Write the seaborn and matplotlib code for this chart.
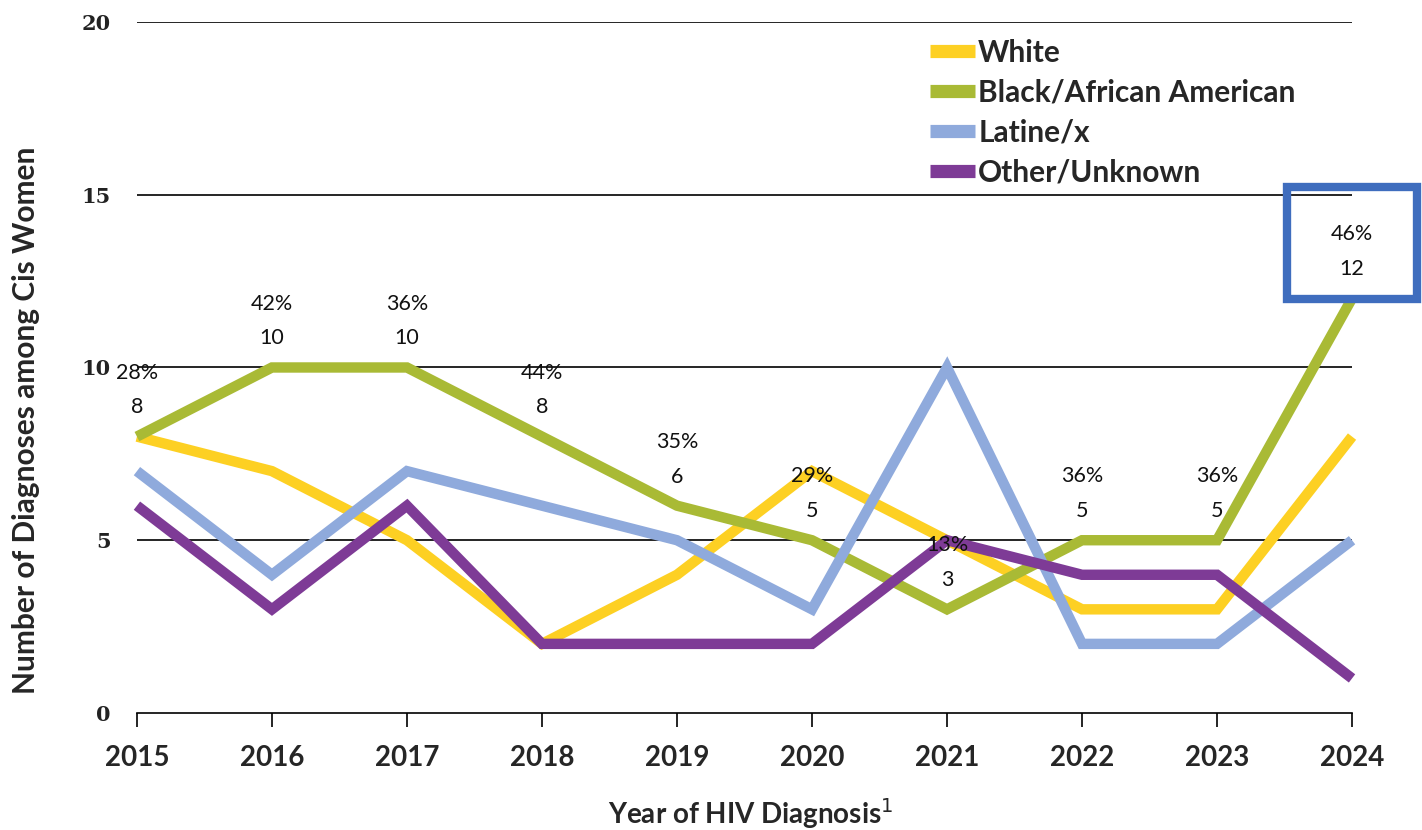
import pandas as pd
import seaborn as sns
import matplotlib.pyplot as plt
from matplotlib.patches import Rectangle

# Data
years = [2015, 2016, 2017, 2018, 2019, 2020, 2021, 2022, 2023, 2024]
white = [8, 7, 5, 2, 4, 7, 5, 3, 3, 8]
black = [8, 10, 10, 8, 6, 5, 3, 5, 5, 12]
latine = [7, 4, 7, 6, 5, 3, 10, 2, 2, 5]
other = [6, 3, 6, 2, 2, 2, 5, 4, 4, 1]
black_pct = ["28%", "42%", "36%", "44%", "35%", "29%", "13%", "36%", "36%", "46%"]

groups = ["White", "Black/African American", "Latine/x", "Other/Unknown"]
colors = ["#FDD023", "#A9BA35", "#8FAADC", "#7E3B96"]

df = pd.DataFrame({
    "year": years * 4,
    "count": white + black + latine + other,
    "group": [g for g in groups for _ in years],
})

sns.set_style("white")
fig = plt.figure(figsize=(14.22, 8.3), dpi=100)
ax = fig.add_axes([0.0963, 0.141, 0.8545, 0.8325])

sns.lineplot(data=df, x="year", y="count", hue="group", hue_order=groups,
             palette=colors, linewidth=7.5, ax=ax, sort=False)
for ln in ax.lines:
    ln.set_solid_capstyle("butt")
    ln.set_solid_joinstyle("miter")
    ln.set_clip_on(False)

ax.set_xlim(2015, 2024)
ax.set_ylim(0, 20)
ax.set_yticks([0, 5, 10, 15, 20])
ax.set_xticks(years)
for y in [5, 10, 15, 20]:
    ax.axhline(y, color="black", linewidth=1.2, zorder=0)

ax.set_yticklabels(["0", "5", "10", "15", "20"], fontfamily="DejaVu Serif",
                   fontweight="bold", fontsize=15, color="#222222")
ax.set_xticklabels([str(y) for y in years], fontfamily="Lato",
                   fontweight="bold", fontsize=20)
ax.tick_params(axis="y", length=0, pad=19)
ax.tick_params(axis="x", length=10, width=1.2, direction="out", pad=13,
               bottom=True, color="black")

for s in ["top", "right", "left"]:
    ax.spines[s].set_visible(False)
ax.spines["bottom"].set_color("black")
ax.spines["bottom"].set_linewidth(1.2)

ax.set_xlabel("Year of HIV Diagnosis$^1$", fontfamily="Lato",
              fontweight="bold", fontsize=20)
ax.set_ylabel("Number of Diagnoses among Cis Women", fontfamily="Lato",
              fontweight="bold", fontsize=21.5)
ax.xaxis.set_label_coords(0.505, -0.12)
ax.yaxis.set_label_coords(-0.08, 0.424)

# Percent / count labels above the Black/African American line
for x, v, p in zip(years, black, black_pct):
    ax.annotate(str(v), (x, v), xytext=(0, 21), textcoords="offset points",
                ha="center", va="center", fontsize=15.5, fontfamily="Lato",
                color="#111111")
    ax.annotate(p, (x, v), xytext=(0, 46), textcoords="offset points",
                ha="center", va="center", fontsize=15.5, fontfamily="Lato",
                color="#111111")

# Highlight box around 2024 label
ax.add_patch(Rectangle((years[-1] - 0.48, black[-1] - 0.03), 0.96, 3.25,
                       fill=False, edgecolor="#3F6DBE", linewidth=6,
                       clip_on=False, zorder=5))

leg = ax.legend(loc="upper left", bbox_to_anchor=(0.653, 0.976), frameon=False,
                borderaxespad=0, borderpad=0,
                handlelength=1.5, handletextpad=0.1, labelspacing=0.4,
                prop={"family": "Lato", "weight": "bold", "size": 21.5})
for h in leg.get_lines():
    h.set_linewidth(9.5)
    h.set_solid_capstyle("butt")

fig.savefig("out.png", dpi=100)
